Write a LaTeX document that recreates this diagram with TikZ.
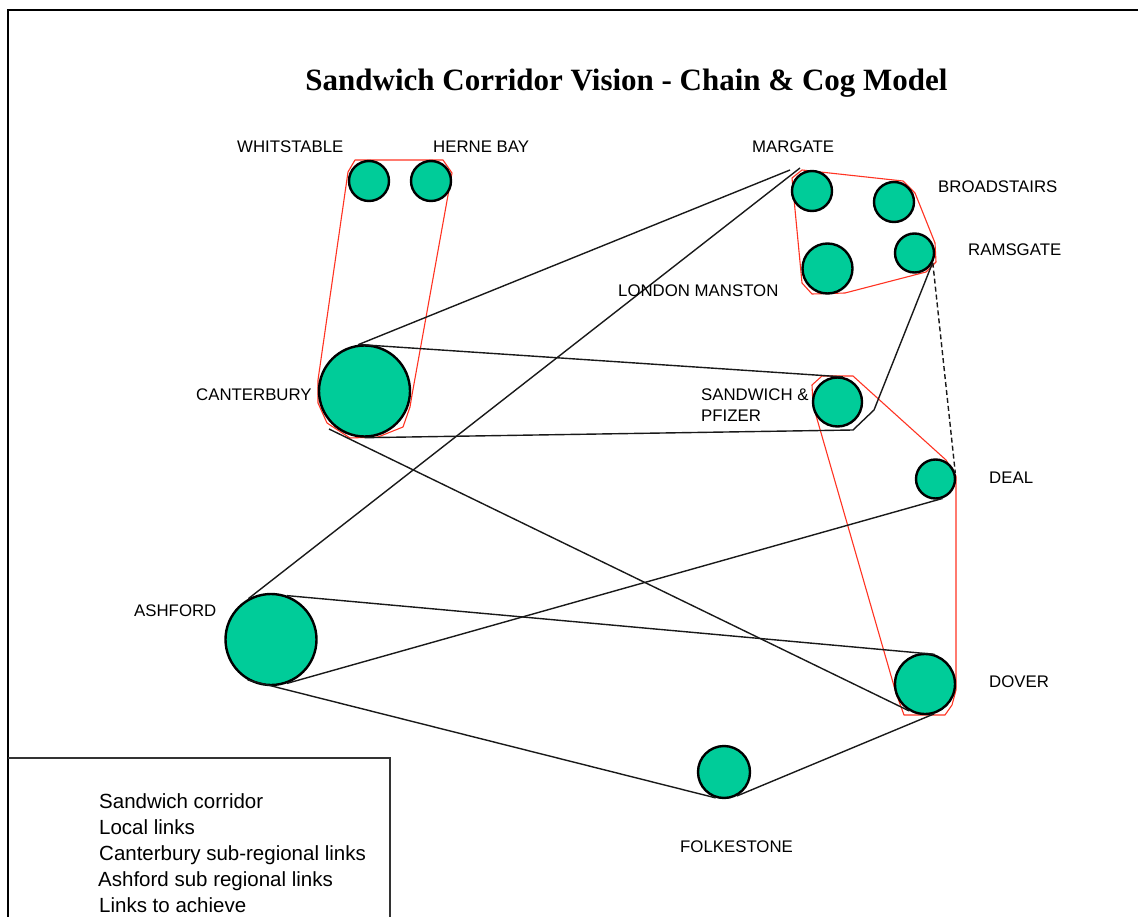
\documentclass[tikz,border=0pt]{standalone}
\usepackage{fontspec}
\setmainfont{Liberation Sans}
\newfontfamily\titlefont{Liberation Serif}
\definecolor{cogfill}{HTML}{00CC99}
\definecolor{beltred}{HTML}{FF3322}
\begin{document}
\begin{tikzpicture}[x=1pt,y=-1pt,
  cog/.style={circle,draw=black,line width=2.4pt,fill=cogfill,inner sep=0pt},
  belt/.style={draw=beltred,line width=1.1pt,line join=round},
  link/.style={draw=black!90,line width=1.4pt},
  town/.style={anchor=base west,inner sep=0pt,font=\fontsize{16.8}{20}\selectfont},
  legendtext/.style={anchor=base west,inner sep=0pt,font=\fontsize{20.5}{24}\selectfont}]
\useasboundingbox (0,0) rectangle (1138,917);

% page frame and legend box
\draw[line width=2pt] (1138,10) -- (8,10) -- (8,917);
\draw[line width=1.3pt,draw=black!80] (8,758) -- (390,758) -- (390,917);

% title
\node[anchor=base,inner sep=0pt,font=\titlefont\bfseries\fontsize{31}{36}\selectfont]
  (title) at (626.5,91) {Sandwich Corridor Vision - Chain \& Cog Model};

% red belts around the cog clusters
\draw[belt] (355,160) -- (443,160) -- (452,173) -- (412,395) -- (410,407) -- (403,427)
  -- (378,437) -- (350,438) -- (327,423) -- (318,403) -- (318,380) -- (348,172) -- cycle;
\draw[belt] (802,170) -- (903,181) -- (915,193) -- (935,243) -- (936,262) -- (926,272)
  -- (845,293) -- (812,294) -- (802,283) -- (792,178) -- cycle;
\draw[belt] (822,376) -- (853,376) -- (946,460) -- (956,476) -- (956,690) -- (952,705)
  -- (945,715) -- (904,715) -- (896,693) -- (813,405) -- (812,385) -- cycle;

% cogs
\node[cog,minimum size=40pt] (whit)  at (369,181)     {};
\node[cog,minimum size=40pt] (herne) at (431,181)     {};
\node[cog,minimum size=91pt] (cant)  at (364.5,391)   {};
\node[cog,minimum size=40pt] (marg)  at (812,191)     {};
\node[cog,minimum size=40pt] (broad) at (894,202)     {};
\node[cog,minimum size=50pt] (manst) at (827.5,268.5) {};
\node[cog,minimum size=39pt] (rams)  at (914.5,253)   {};
\node[cog,minimum size=49pt] (sand)  at (837.5,402)   {};
\node[cog,minimum size=39pt] (deal)  at (935.5,479)   {};
\node[cog,minimum size=60pt] (dover) at (925,684)     {};
\node[cog,minimum size=91pt] (ash)   at (271,639.5)   {};
\node[cog,minimum size=52pt] (folk)  at (724,772)     {};

% chain links
\coordinate (margA) at (790,170);
\coordinate (margB) at (800,168);
\coordinate (sandA) at (853,430);
\coordinate (sandB) at (874,410);
\coordinate (cantDL) at (329,429);
\draw[link] (cant.98) -- (margA);
\draw[link] (ash.119) -- (margB);
\draw[link] (cant.96) -- (sand.78);
\draw[link,line join=round] (cant.270) -- (sandA) -- (sandB) -- (rams.-31);
\draw[link] (cantDL) -- (dover.240);
\draw[link] (ash.70) -- (dover.72);
\draw[link] (ash.290) -- (deal.290);
\draw[link] (ash.240) -- (folk.252);
\draw[link] (folk.298) -- (dover.287);
\draw[link,dashed,dash pattern=on 5pt off 3pt] (rams.-28) -- (deal.17);

% town names
\node[town] (lwhit)  at (237,153) {WHITSTABLE};
\node[town] (lherne) at (433,153) {HERNE BAY};
\node[town] (lmarg)  at (752,153) {MARGATE};
\node[town] (lbroad) at (938,193) {BROADSTAIRS};
\node[town] (lrams)  at (968,256) {RAMSGATE};
\node[town] (lmanst) at (618,297) {LONDON MANSTON};
\node[town] (lcant)  at (196,400) {CANTERBURY};
\node[town] (lsand)  at (701,400) {SANDWICH \&};
\node[town] (lpfiz)  at (701,421) {PFIZER};
\node[town] (ldeal)  at (989,483) {DEAL};
\node[town] (lash)   at (134,616) {ASHFORD};
\node[town] (ldover) at (989,687) {DOVER};
\node[town] (lfolk)  at (680,852) {FOLKESTONE};

% legend entries
\node[legendtext] (leg1) at (99,808) {Sandwich corridor};
\node[legendtext] (leg2) at (99,834) {Local links};
\node[legendtext] (leg3) at (99,860) {Canterbury sub-regional links};
\node[legendtext] (leg4) at (98,886) {Ashford sub regional links};
\node[legendtext] (leg5) at (99,912) {Links to achieve};
\end{tikzpicture}
\end{document}
